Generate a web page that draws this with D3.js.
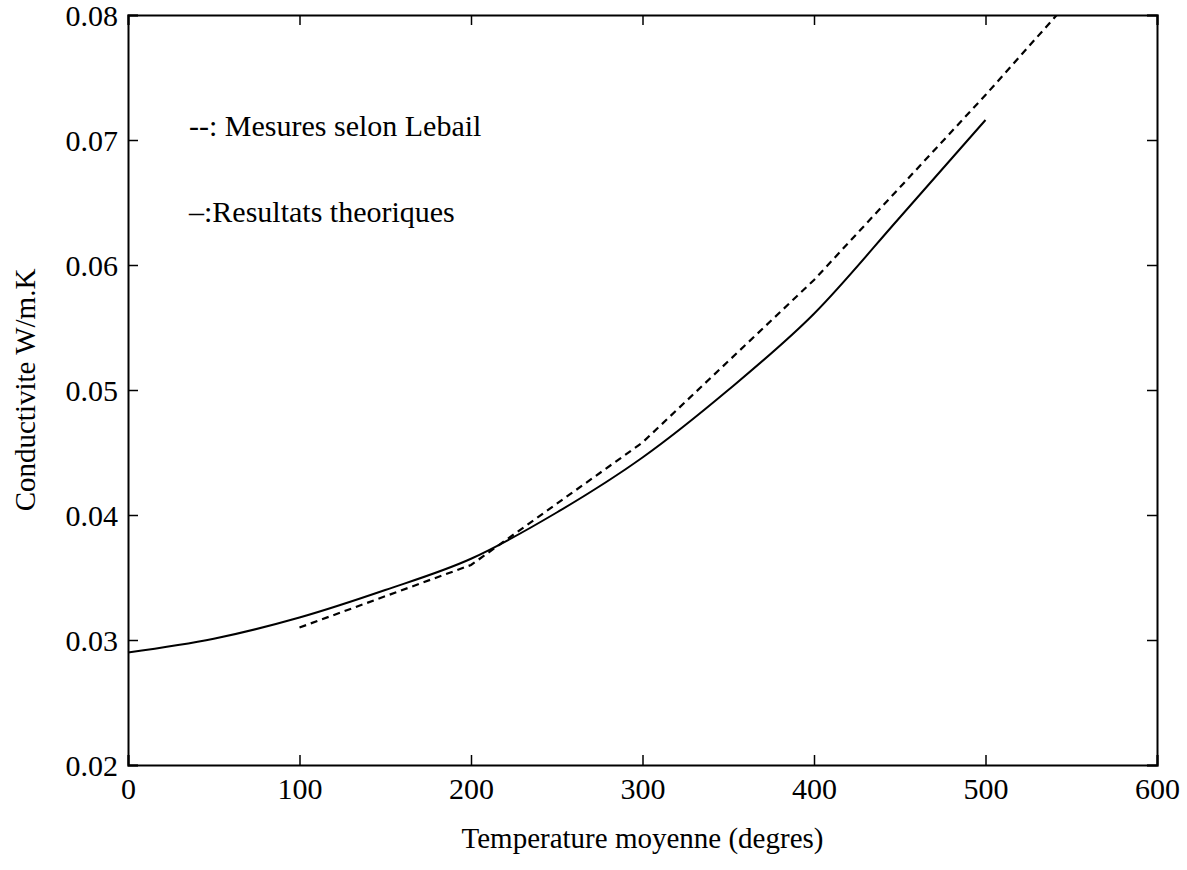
<!DOCTYPE html>
<html>
<head>
<meta charset="utf-8">
<script src="https://cdn.jsdelivr.net/npm/d3@7"></script>
<style>
  body { margin: 0; background: #fff; }
  svg text { font-family: "Liberation Serif", "Times New Roman", serif; fill: #000; }
</style>
</head>
<body>
<div id="chart"></div>
<script>
// temperature (degres) / conductivite (W/m.K)
let theoTemp = [0, 50, 100, 150, 200, 250, 300, 350, 400, 450, 500]
let theoCond = [0.0290, 0.0301, 0.0318, 0.0340, 0.0365, 0.0402, 0.0446, 0.0500, 0.0561, 0.0638, 0.0716]

let lebailTemp = [100, 200, 300, 400, 500, 600]
let lebailCond = [0.0310, 0.0360, 0.0458, 0.0588, 0.0736, 0.0890]

let xTicks = [0, 100, 200, 300, 400, 500, 600]
let yTicks = [0.02, 0.03, 0.04, 0.05, 0.06, 0.07, 0.08]

let legendLabels = ["--: Mesures selon Lebail", "\u2013:Resultats theoriques"]

let width = 1187
let height = 870
let margin = { top: 15, left: 128, right: 30, bottom: 105 }

let svg = d3.select("#chart").append("svg")
  .attr("width", width)
  .attr("height", height)

let x = d3.scaleLinear().domain([0, 600]).range([margin.left, width - margin.right])
let y = d3.scaleLinear().domain([0.02, 0.08]).range([height - margin.bottom, margin.top])

let tickLen = 10

// clip so the dashed line stops at the top of the box
svg.append("clipPath").attr("id", "plotClip")
  .append("rect")
  .attr("x", x(0)).attr("y", y(0.08))
  .attr("width", x(600) - x(0)).attr("height", y(0.02) - y(0.08))

// axes, matlab style: ticks inside, on all four sides
let bottomAxis = svg.append("g")
  .attr("transform", "translate(0," + y(0.02) + ")")
  .call(d3.axisBottom(x).tickValues(xTicks).tickSize(-tickLen).tickPadding(13).tickFormat(d3.format("d")))
let topAxis = svg.append("g")
  .attr("transform", "translate(0," + y(0.08) + ")")
  .call(d3.axisTop(x).tickValues(xTicks).tickSize(-tickLen).tickFormat(""))
let leftAxis = svg.append("g")
  .attr("transform", "translate(" + x(0) + ",0)")
  .call(d3.axisLeft(y).tickValues(yTicks).tickSize(-tickLen).tickPadding(10).tickFormat(d3.format(".2f")))
let rightAxis = svg.append("g")
  .attr("transform", "translate(" + x(600) + ",0)")
  .call(d3.axisRight(y).tickValues(yTicks).tickSize(-tickLen).tickFormat(""))

for (let a of [bottomAxis, topAxis, leftAxis, rightAxis]) {
  a.select(".domain").attr("stroke", "#000").attr("stroke-width", 2)
  a.selectAll(".tick line").attr("stroke", "#000").attr("stroke-width", 1.5)
  a.selectAll(".tick text").style("font-size", "30px").attr("fill", "#000")
}
bottomAxis.selectAll(".tick text").attr("dy", "0.71em")
leftAxis.selectAll(".tick text").attr("dy", "0.35em")

// lines
let theoData = theoTemp.map((t, i) => [t, theoCond[i]])
let lebailData = lebailTemp.map((t, i) => [t, lebailCond[i]])

let line = d3.line()
  .x(d => x(d[0]))
  .y(d => y(d[1]))

svg.append("path")
  .datum(lebailData)
  .attr("clip-path", "url(#plotClip)")
  .attr("fill", "none")
  .attr("stroke", "#000")
  .attr("stroke-width", 2.2)
  .attr("stroke-dasharray", "7,5")
  .attr("d", line)

svg.append("path")
  .datum(theoData)
  .attr("fill", "none")
  .attr("stroke", "#000")
  .attr("stroke-width", 2)
  .attr("d", d3.line().curve(d3.curveMonotoneX).x(d => x(d[0])).y(d => y(d[1])))

// legend text (plain text in the plot like the original)
svg.selectAll(".legendText")
  .data(legendLabels)
  .enter().append("text")
  .attr("class", "legendText")
  .attr("x", 189)
  .attr("y", (d, i) => 136 + i * 86)
  .style("font-size", "30px")
  .text(d => d)

// axis titles
svg.append("text")
  .attr("x", (x(0) + x(600)) / 2)
  .attr("y", 848)
  .attr("text-anchor", "middle")
  .style("font-size", "29px")
  .text("Temperature moyenne (degres)")

svg.append("text")
  .attr("transform", "translate(35," + (y(0.02) + y(0.08)) / 2 + ") rotate(-90)")
  .attr("text-anchor", "middle")
  .style("font-size", "29px")
  .text("Conductivite W/m.K")
</script>
</body>
</html>
